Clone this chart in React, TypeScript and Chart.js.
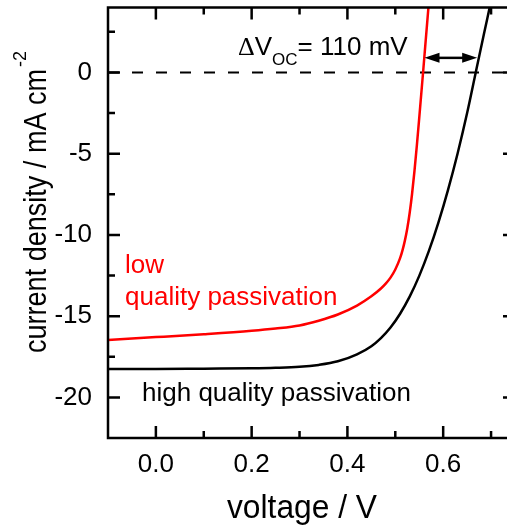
import { useEffect, useRef } from "react";
import { Chart, registerables } from "chart.js";

Chart.register(...registerables);

// J–V curves (voltage in V, current density in mA cm^-2)
const voltageHigh = [
  -0.1, 0.0, 0.1, 0.2, 0.25, 0.3, 0.34, 0.38, 0.42, 0.45, 0.47, 0.49, 0.51, 0.53,
  0.55, 0.57, 0.59, 0.61, 0.63, 0.65, 0.668, 0.685, 0.7, 0.71,
];
const currentHigh = [
  -18.26, -18.25, -18.23, -18.21, -18.18, -18.12, -18.0, -17.78, -17.35, -16.85,
  -16.35, -15.7, -14.85, -13.8, -12.52, -11.0, -9.24, -7.24, -5.0, -2.5, 0.0,
  2.35, 4.4, 5.8,
];

const voltageLow = [
  -0.1, 0.0, 0.1, 0.2, 0.25, 0.3, 0.34, 0.38, 0.42, 0.45, 0.47, 0.48, 0.49, 0.5,
  0.51, 0.515, 0.52, 0.525, 0.53, 0.535, 0.54, 0.545, 0.55, 0.558, 0.565, 0.572,
];
const currentLow = [
  -16.46, -16.29, -16.11, -15.9, -15.76, -15.57, -15.28, -14.9, -14.35, -13.78,
  -13.3, -13.0, -12.63, -12.13, -11.43, -10.95, -10.35, -9.6, -8.65, -7.48, -6.08,
  -4.5, -2.8, 0.0, 2.5, 5.0,
];

// Axes
const xRange = [-0.1, 0.75];
const yRange = [-22.5, 4];
const xMajorTicks = [0, 0.2, 0.4, 0.6];
const xMinorTicks = [0.1, 0.3, 0.5, 0.7];
const yMajorTicks = [-20, -15, -10, -5, 0];
const yMinorTicks = [-17.5, -12.5, -7.5, -2.5, 2.5];

// Open-circuit voltage difference marker
const vocArrow = [0.561, 0.671];
const arrowCurrent = 0.9;

const FONT = "'Liberation Sans', Arial, sans-serif";

// draws text condensed horizontally so that it spans `width` pixels
function fillFitted(ctx: CanvasRenderingContext2D, text: string, x: number, y: number, width: number) {
  const w = ctx.measureText(text).width;
  ctx.save();
  ctx.translate(x, y);
  ctx.scale(width / w, 1);
  ctx.fillText(text, 0, 0);
  ctx.restore();
}

const annotationPlugin = {
  id: "jvAnnotations",
  beforeDatasetsDraw(chart: any) {
    const { ctx, chartArea: a, scales } = chart;
    const y0 = scales.y.getPixelForValue(0);
    ctx.save();
    ctx.strokeStyle = "#000";
    ctx.lineWidth = 2;
    ctx.setLineDash([11, 13]);
    ctx.beginPath();
    ctx.moveTo(a.left, y0);
    ctx.lineTo(a.right, y0);
    ctx.stroke();
    ctx.restore();
  },
  afterDatasetsDraw(chart: any) {
    const { ctx, chartArea: a, scales } = chart;
    const xs = scales.x;
    const ys = scales.y;
    ctx.save();
    ctx.strokeStyle = "#000";
    ctx.fillStyle = "#000";
    ctx.lineWidth = 2.5;
    ctx.setLineDash([]);

    // frame
    ctx.strokeRect(a.left, a.top, a.right - a.left, a.bottom - a.top);

    // inward ticks on all four sides
    const major = 12;
    const minor = 7;
    ctx.beginPath();
    const xTick = (v: number, len: number) => {
      const px = xs.getPixelForValue(v);
      ctx.moveTo(px, a.bottom);
      ctx.lineTo(px, a.bottom - len);
      ctx.moveTo(px, a.top);
      ctx.lineTo(px, a.top + len);
    };
    const yTick = (v: number, len: number) => {
      const py = ys.getPixelForValue(v);
      ctx.moveTo(a.left, py);
      ctx.lineTo(a.left + len, py);
      ctx.moveTo(a.right, py);
      ctx.lineTo(a.right - len, py);
    };
    xMajorTicks.forEach((v) => xTick(v, major));
    xMinorTicks.forEach((v) => xTick(v, minor));
    yMajorTicks.forEach((v) => yTick(v, major));
    yMinorTicks.forEach((v) => yTick(v, minor));
    ctx.stroke();

    // double-headed arrow between the two Voc values
    const ax1 = xs.getPixelForValue(vocArrow[0]);
    const ax2 = xs.getPixelForValue(vocArrow[1]);
    const ay = ys.getPixelForValue(arrowCurrent);
    const head = 15;
    const half = 5;
    ctx.beginPath();
    ctx.moveTo(ax1 + head - 2, ay);
    ctx.lineTo(ax2 - head + 2, ay);
    ctx.stroke();
    ctx.beginPath();
    ctx.moveTo(ax1, ay);
    ctx.lineTo(ax1 + head, ay - half);
    ctx.lineTo(ax1 + head, ay + half);
    ctx.closePath();
    ctx.moveTo(ax2, ay);
    ctx.lineTo(ax2 - head, ay - half);
    ctx.lineTo(ax2 - head, ay + half);
    ctx.closePath();
    ctx.fill();

    // ΔVoc label
    const dVoc = Math.round((vocArrow[1] - vocArrow[0]) * 1000);
    ctx.textBaseline = "alphabetic";
    ctx.textAlign = "left";
    let tx = 238;
    ctx.font = `26px 'Liberation Serif', 'Times New Roman', serif`;
    ctx.fillText("Δ", tx, 55);
    tx += ctx.measureText("Δ").width;
    ctx.font = `26px ${FONT}`;
    ctx.fillText("V", tx, 55);
    tx += ctx.measureText("V").width;
    ctx.font = `17px ${FONT}`;
    ctx.fillText("OC", tx, 65);
    tx += ctx.measureText("OC").width;
    ctx.font = `26px ${FONT}`;
    ctx.fillText(`= ${dVoc} mV`, tx, 55);

    // curve labels
    ctx.fillStyle = "#ff0000";
    ctx.fillText("low", 125, 273);
    ctx.fillText("quality passivation", 125, 305);
    ctx.fillStyle = "#000";
    ctx.fillText("high quality passivation", 142, 401);

    // axis titles
    ctx.font = `34px ${FONT}`;
    fillFitted(ctx, "voltage / V", 227, 518, 150);

    ctx.translate(46, 353);
    ctx.rotate(-Math.PI / 2);
    ctx.font = `31px ${FONT}`;
    const yTitle = "current density / mA cm";
    fillFitted(ctx, yTitle, 0, 0, 284);
    ctx.font = `19px ${FONT}`;
    fillFitted(ctx, "-2", 286, -20, 16);
    ctx.restore();
  },
};

const noPadding = (scale: any) => {
  scale.paddingLeft = 0;
  scale.paddingRight = 0;
  scale.paddingTop = 0;
  scale.paddingBottom = 0;
};

export default function App() {
  const ref = useRef<HTMLCanvasElement>(null);

  useEffect(() => {
    const canvas = ref.current;
    if (!canvas) return;
    const chart = new Chart(canvas, {
      type: "line",
      data: {
        datasets: [
          {
            label: "low quality passivation",
            data: voltageLow.map((v, i) => ({ x: v, y: currentLow[i] })),
            borderColor: "#ff0000",
            borderWidth: 2.5,
            pointRadius: 0,
            cubicInterpolationMode: "monotone",
          },
          {
            label: "high quality passivation",
            data: voltageHigh.map((v, i) => ({ x: v, y: currentHigh[i] })),
            borderColor: "#000000",
            borderWidth: 2.5,
            pointRadius: 0,
            cubicInterpolationMode: "monotone",
          },
        ],
      },
      options: {
        animation: false,
        responsive: false,
        devicePixelRatio: 1,
        layout: { padding: { top: 7.5, right: 15, left: 0, bottom: 0 } },
        plugins: { legend: { display: false }, tooltip: { enabled: false } },
        scales: {
          x: {
            type: "linear",
            min: xRange[0],
            max: xRange[1],
            grid: { display: false, drawTicks: false },
            border: { display: false },
            afterBuildTicks: (scale: any) => {
              scale.ticks = xMajorTicks.map((v) => ({ value: v }));
            },
            afterFit: (scale: any) => {
              scale.height = 89;
              noPadding(scale);
            },
            ticks: {
              color: "#000",
              padding: 11,
              maxRotation: 0,
              font: { family: FONT, size: 26 },
              callback: (v: any) => Number(v).toFixed(1),
            },
          },
          y: {
            type: "linear",
            min: yRange[0],
            max: yRange[1],
            grid: { display: false, drawTicks: false },
            border: { display: false },
            afterBuildTicks: (scale: any) => {
              scale.ticks = yMajorTicks.map((v) => ({ value: v }));
            },
            afterFit: (scale: any) => {
              scale.width = 108;
              noPadding(scale);
            },
            ticks: {
              color: "#000",
              padding: 16,
              font: { family: FONT, size: 26 },
              callback: (v: any) => String(v),
            },
          },
        },
      },
      plugins: [annotationPlugin],
    } as any);
    return () => chart.destroy();
  }, []);

  return (
    <div
      style={{
        position: "fixed",
        left: 0,
        top: 0,
        width: 507,
        height: 527,
        overflow: "hidden",
        background: "#fff",
      }}
    >
      <canvas
        ref={ref}
        width={530}
        height={527}
        style={{ display: "block", width: 530, height: 527 }}
      />
    </div>
  );
}
